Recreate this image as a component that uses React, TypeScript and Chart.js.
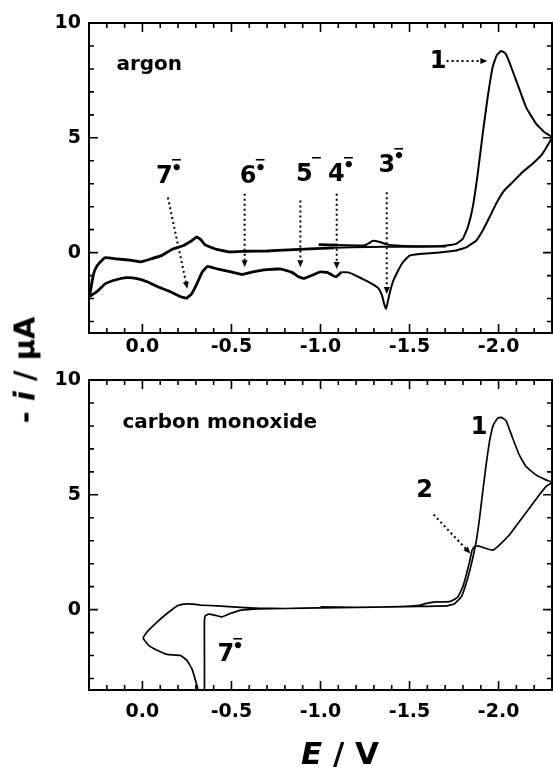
import React, { useEffect, useRef } from "react";
import { Chart, registerables } from "chart.js";

Chart.register(...registerables);

// ---- axes ----
const X_MIN = -2.3;
const X_MAX = 0.3;
const Y_MIN = -3.5;
const Y_MAX = 10;
const X_TICKS = [0, -0.5, -1, -1.5, -2];
const Y_TICKS = [0, 5, 10];

// ---- argon panel: potential (V) and -i (µA) ----
const AR_E = [
  -0.99, -1.1, -1.2, -1.25, -1.275, -1.294, -1.334, -1.373, -1.45, -1.55, -1.65, -1.706, -1.762, -1.799,
  -1.827, -1.855, -1.883, -1.911, -1.939, -1.967, -1.99, -2.014, -2.038, -2.06, -2.098, -2.154, -2.21, -2.256, -2.3,
  -2.247, -2.191, -2.135, -2.079, -2.032, -1.986, -1.949, -1.911, -1.874, -1.818, -1.762, -1.669, -1.557, -1.5,
  -1.463, -1.426, -1.405, -1.389, -1.376, -1.368, -1.358, -1.345, -1.325, -1.294, -1.255, -1.196, -1.156, -1.117, -1.087,
  -1.067, -1.038, -0.998, -0.958, -0.909, -0.879, -0.84, -0.78, -0.7, -0.62, -0.563, -0.504, -0.425, -0.366,
  -0.336, -0.306, -0.277, -0.247, -0.208, -0.148, -0.089, -0.03, 0.03, 0.089, 0.148, 0.208, 0.247, 0.296,
  0.29, 0.275, 0.257, 0.23, 0.208, 0.148, 0.069, 0.01, -0.049, -0.109, -0.168, -0.227, -0.277, -0.306, -0.33,
  -0.35, -0.405, -0.484, -0.583, -0.7, -0.82, -0.939, -1.077, -1.275, -1.45, -1.57, -1.706,
];
const AR_I = [
  0.35, 0.33, 0.31, 0.32, 0.42, 0.52, 0.46, 0.36, 0.3, 0.28, 0.28, 0.31, 0.38, 0.6,
  1.1, 1.98, 3.44, 5.18, 6.78, 8.09, 8.6, 8.78, 8.68, 8.31, 7.51, 6.34, 5.62, 5.25, 5.03,
  4.31, 3.87, 3.51, 3.07, 2.71, 2.13, 1.54, 0.96, 0.52, 0.23, 0.09, 0.01, -0.06, -0.13,
  -0.42, -0.93, -1.3, -1.75, -2.2, -2.45, -2.25, -1.85, -1.55, -1.38, -1.22, -0.99, -0.86, -0.86, -1.06,
  -0.99, -0.86, -0.84, -0.97, -1.12, -1.06, -0.86, -0.72, -0.74, -0.84, -0.95, -0.85, -0.72, -0.6,
  -0.84, -1.35, -1.79, -1.98, -1.9, -1.67, -1.5, -1.28, -1.13, -1.09, -1.18, -1.35, -1.64, -1.9,
  -1.6, -0.95, -0.6, -0.35, -0.22, -0.27, -0.33, -0.4, -0.27, -0.12, 0.15, 0.3, 0.52, 0.68, 0.55,
  0.35, 0.17, 0.03, 0.06, 0.07, 0.12, 0.16, 0.21, 0.25, 0.26, 0.26, 0.27,
];

// ---- carbon monoxide panel ----
const CO_E = [
  -1.0, -1.2, -1.4, -1.55, -1.65, -1.71, -1.753, -1.79, -1.818, -1.846, -1.874, -1.893, -1.911, -1.93, -1.949,
  -1.971, -1.995, -2.016, -2.042, -2.079, -2.116, -2.154, -2.21, -2.266, -2.3,
  -2.266, -2.229, -2.173, -2.116, -2.06, -2.004, -1.967, -1.93, -1.902, -1.874, -1.865, -1.851, -1.837, -1.818,
  -1.799, -1.771, -1.734, -1.706, -1.65, -1.594, -1.557, -1.45, -1.2, -1.0, -0.8, -0.66, -0.55, -0.42, -0.325,
  -0.29, -0.23, -0.194, -0.138, -0.082, -0.026, -0.004, -0.035, -0.082, -0.138, -0.213, -0.25, -0.278, -0.301,
  -0.315, -0.33,
  -0.348, -0.348, -0.352, -0.371, -0.41, -0.446, -0.493, -0.549, -0.66, -0.8, -1.0,
];
const CO_I = [
  0.12, 0.1, 0.12, 0.14, 0.15, 0.16, 0.26, 0.55, 1.14, 1.94, 2.96, 3.97, 5.14, 6.3, 7.32,
  8.05, 8.34, 8.37, 8.23, 7.47, 6.74, 6.23, 5.87, 5.65, 5.55,
  5.36, 5.0, 4.41, 3.83, 3.25, 2.81, 2.59, 2.66, 2.74, 2.78, 2.75, 2.59, 2.08, 1.5,
  0.99, 0.55, 0.37, 0.34, 0.34, 0.27, 0.19, 0.13, 0.1, 0.08, 0.05, 0.06, 0.1, 0.16, 0.2,
  0.24, 0.24, 0.16, -0.17, -0.54, -0.97, -1.24, -1.56, -1.77, -1.95, -1.99, -2.21, -2.58, -3.16,
  -3.6, -4.5,
  -3.6, -0.6, -0.28, -0.2, -0.25, -0.32, -0.17, -0.03, 0.03, 0.05, 0.07,
];

// ---- annotations (data coordinates) ----
const AR_TEXTS = [
  { text: "argon", e: 0.146, i: 7.95, size: 20, align: "left", base: "alphabetic" },
  { text: "1", e: -1.66, i: 8.32, size: 24, align: "center", base: "middle" },
];
const AR_IONS = [
  { n: "7", e: -0.123, i: 3.3, dot: true },
  { n: "6", e: -0.594, i: 3.3, dot: true },
  { n: "5", e: -0.91, i: 3.41, dot: false },
  { n: "4", e: -1.089, i: 3.41, dot: true },
  { n: "3", e: -1.372, i: 3.8, dot: true },
];
const AR_ARROWS = [
  { e1: -0.143, i1: 2.4, e2: -0.252, i2: -1.57 },
  { e1: -0.574, i1: 2.56, e2: -0.574, i2: -0.64 },
  { e1: -0.887, i1: 2.27, e2: -0.887, i2: -0.64 },
  { e1: -1.091, i1: 2.56, e2: -1.091, i2: -0.71 },
  { e1: -1.372, i1: 2.63, e2: -1.372, i2: -1.8 },
  { e1: -1.708, i1: 8.34, e2: -1.937, i2: 8.34 },
];
const CO_TEXTS = [
  { text: "carbon monoxide", e: 0.112, i: 7.9, size: 20, align: "left", base: "alphabetic" },
  { text: "1", e: -1.89, i: 7.93, size: 24, align: "center", base: "middle" },
  { text: "2", e: -1.585, i: 5.18, size: 24, align: "center", base: "middle" },
];
const CO_IONS = [{ n: "7", e: -0.468, i: -1.98, dot: true }];
const CO_ARROWS = [{ e1: -1.635, i1: 4.14, e2: -1.842, i2: 2.44 }];

const FONT = '"DejaVu Sans"';

const frameTicks = {
  id: "frameTicks",
  afterDraw(chart: any) {
    const { ctx, chartArea: a, scales } = chart;
    const x = scales.x;
    const y = scales.y;
    ctx.save();
    ctx.strokeStyle = "#000";
    ctx.lineWidth = 1.6;
    for (let k = -22; k <= 2; k++) {
      const px = x.getPixelForValue(k / 10);
      const len = k % 5 === 0 ? 9 : 5;
      ctx.beginPath();
      ctx.moveTo(px, a.bottom);
      ctx.lineTo(px, a.bottom - len);
      ctx.moveTo(px, a.top);
      ctx.lineTo(px, a.top + len);
      ctx.stroke();
    }
    for (let k = -3; k <= 9; k++) {
      const py = y.getPixelForValue(k);
      const len = k % 5 === 0 ? 9 : 5;
      ctx.beginPath();
      ctx.moveTo(a.left, py);
      ctx.lineTo(a.left + len, py);
      ctx.moveTo(a.right, py);
      ctx.lineTo(a.right - len, py);
      ctx.stroke();
    }
    ctx.lineWidth = 2;
    ctx.strokeRect(a.left, a.top, a.right - a.left, a.bottom - a.top);
    ctx.restore();
  },
};

function decoPlugin(texts: any[], ions: any[], arrows: any[]) {
  return {
    id: "deco",
    afterDatasetsDraw(chart: any) {
      const { ctx, scales } = chart;
      const x = scales.x;
      const y = scales.y;
      ctx.save();
      ctx.fillStyle = "#000";
      ctx.strokeStyle = "#000";
      for (const t of texts) {
        ctx.font = `bold ${t.size}px ${FONT}`;
        ctx.textAlign = t.align;
        ctx.textBaseline = t.base;
        ctx.fillText(t.text, x.getPixelForValue(t.e), y.getPixelForValue(t.i));
      }
      for (const ion of ions) {
        const px = x.getPixelForValue(ion.e);
        const py = y.getPixelForValue(ion.i);
        ctx.font = `bold 24px ${FONT}`;
        ctx.textAlign = "center";
        ctx.textBaseline = "middle";
        ctx.fillText(ion.n, px, py);
        const w = ctx.measureText(ion.n).width;
        const right = px + w / 2 - 1;
        const top = py - 9;
        ctx.font = `bold 14px ${FONT}`;
        ctx.textAlign = "left";
        ctx.fillText("\u2212", right - 1, top - 7);
        if (ion.dot) {
          ctx.font = `bold 18px ${FONT}`;
          ctx.textAlign = "center";
          ctx.fillText("\u2022", right + 5, top + 1);
        }
      }
      for (const ar of arrows) {
        const x1 = x.getPixelForValue(ar.e1);
        const y1 = y.getPixelForValue(ar.i1);
        const x2 = x.getPixelForValue(ar.e2);
        const y2 = y.getPixelForValue(ar.i2);
        const ang = Math.atan2(y2 - y1, x2 - x1);
        const hl = 7;
        const bx = x2 - hl * Math.cos(ang);
        const by = y2 - hl * Math.sin(ang);
        ctx.lineWidth = 2;
        ctx.setLineDash([2, 3]);
        ctx.beginPath();
        ctx.moveTo(x1, y1);
        ctx.lineTo(bx, by);
        ctx.stroke();
        ctx.setLineDash([]);
        ctx.beginPath();
        ctx.moveTo(x2, y2);
        ctx.lineTo(bx + 3 * Math.sin(ang), by - 3 * Math.cos(ang));
        ctx.lineTo(bx - 3 * Math.sin(ang), by + 3 * Math.cos(ang));
        ctx.closePath();
        ctx.fill();
      }
      ctx.restore();
    },
  };
}

function makeConfig(
  E: number[],
  I: number[],
  deco: any,
  padTop: number,
  xH: number,
  xPad: number,
  lw: number,
  noisyLw: number
): any {
  const tickFont = { family: FONT, weight: "bold", size: 19 };
  return {
    type: "scatter",
    data: {
      datasets: [
        {
          data: E.map((e, k) => ({ x: e, y: I[k] })),
          showLine: true,
          pointRadius: 0,
          borderColor: "#000",
          borderWidth: lw,
          tension: 0.1,
          fill: false,
          segment: {
            borderWidth: (c: any) => (c.p0.parsed.x > -1.15 && c.p1.parsed.x > -1.15 ? noisyLw : lw),
          },
        },
      ],
    },
    options: {
      animation: false,
      responsive: false,
      maintainAspectRatio: false,
      events: [],
      layout: { padding: { top: padTop, right: 1, left: 0, bottom: 0 } },
      plugins: { legend: { display: false }, tooltip: { enabled: false } },
      scales: {
        x: {
          type: "linear",
          min: X_MIN,
          max: X_MAX,
          reverse: true,
          grid: { display: false, drawTicks: false },
          border: { display: false },
          afterBuildTicks: (s: any) => {
            s.ticks = X_TICKS.map((v) => ({ value: v }));
          },
          afterFit: (s: any) => {
            s.height = xH;
          },
          ticks: {
            padding: xPad,
            color: "#000",
            font: tickFont,
            autoSkip: false,
            maxRotation: 0,
            callback: (v: any) => Number(v).toFixed(1),
          },
        },
        y: {
          type: "linear",
          min: Y_MIN,
          max: Y_MAX,
          grid: { display: false, drawTicks: false },
          border: { display: false },
          afterBuildTicks: (s: any) => {
            s.ticks = Y_TICKS.map((v) => ({ value: v }));
          },
          afterFit: (s: any) => {
            s.width = 89;
          },
          ticks: {
            padding: 8,
            color: "#000",
            font: tickFont,
            autoSkip: false,
            callback: (v: any) => String(v),
          },
        },
      },
    },
    plugins: [frameTicks, deco],
  };
}

export default function App() {
  const topRef = useRef<HTMLCanvasElement>(null);
  const botRef = useRef<HTMLCanvasElement>(null);

  useEffect(() => {
    const c1 = new Chart(
      topRef.current as HTMLCanvasElement,
      makeConfig(AR_E, AR_I, decoPlugin(AR_TEXTS, AR_IONS, AR_ARROWS), 23, 27, 3, 2, 2.8)
    );
    const c2 = new Chart(
      botRef.current as HTMLCanvasElement,
      makeConfig(CO_E, CO_I, decoPlugin(CO_TEXTS, CO_IONS, CO_ARROWS), 20, 77, 11, 1.7, 1.7)
    );
    return () => {
      c1.destroy();
      c2.destroy();
    };
  }, []);

  return (
    <div
      style={{
        position: "absolute",
        left: 0,
        top: 0,
        width: 553,
        height: 767,
        background: "#fff",
        fontFamily: FONT,
        overflow: "hidden",
      }}
    >
      <canvas ref={topRef} width={553} height={360} style={{ position: "absolute", left: 0, top: 0 }} />
      <canvas ref={botRef} width={553} height={407} style={{ position: "absolute", left: 0, top: 360 }} />
      <div
        style={{
          position: "absolute",
          left: 25,
          top: 370,
          transform: "translate(-50%, -50%) rotate(-90deg)",
          fontWeight: "bold",
          fontSize: 29,
          lineHeight: 1,
          whiteSpace: "nowrap",
          color: "#000",
        }}
      >
        - <i>i</i> / μA
      </div>
      <div
        style={{
          position: "absolute",
          left: 340,
          top: 753,
          transform: "translate(-50%, -50%)",
          fontWeight: "bold",
          fontSize: 31,
          lineHeight: 1,
          whiteSpace: "nowrap",
          color: "#000",
        }}
      >
        <i>E</i> / V
      </div>
    </div>
  );
}
